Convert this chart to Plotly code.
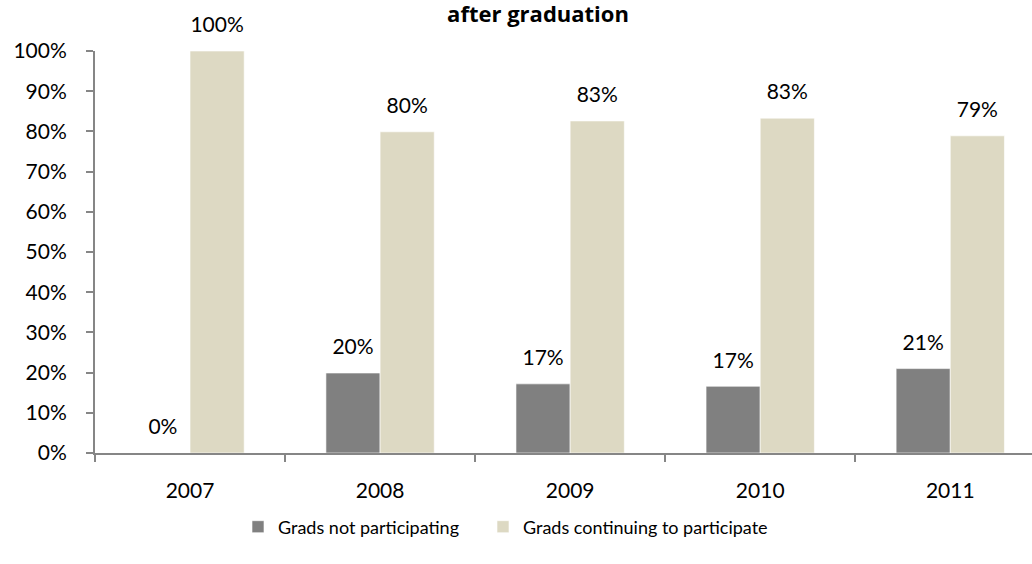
import plotly.graph_objects as go

# data
years = ["2007", "2008", "2009", "2010", "2011"]
not_participating = [0.0, 0.199, 0.172, 0.166, 0.210]
continuing = [1.0, 0.799, 0.826, 0.833, 0.789]
series_names = ["Grads not participating", "Grads continuing to participate"]
title_text = "after graduation"

FONT = "Lato"
GREY = "#808080"
TAN = "#DDD9C3"
AXIS = "#868686"

fig = go.Figure()
series = [
    (series_names[0], not_participating, GREY, "g1", "legend"),
    (series_names[1], continuing, TAN, "g2", "legend2"),
]
for name, vals, colour, grp, leg in series:
    fig.add_trace(go.Bar(
        x=years, y=vals, name=name, offsetgroup=grp, legend=leg,
        marker=dict(color=colour, line=dict(color="white", width=0.6)),
        hoverinfo="skip",
    ))
    # value labels: invisible markers push the text up above the bar tops
    fig.add_trace(go.Scatter(
        x=years, y=vals, offsetgroup=grp, mode="markers+text",
        text=[f"{v * 100:.0f}%" for v in vals], textposition="top center",
        textfont=dict(family=FONT, size=21, color="black"),
        marker=dict(size=20, opacity=0), showlegend=False, hoverinfo="skip",
        cliponaxis=False,
    ))

legend_style = dict(orientation="h", xref="container", yref="container",
                    xanchor="left", y=1 - 527 / 564, yanchor="middle",
                    font=dict(family=FONT, size=18, color="black"),
                    bgcolor="rgba(0,0,0,0)")

fig.update_layout(
    width=1032, height=564,
    paper_bgcolor="white", plot_bgcolor="white",
    margin=dict(l=95, r=0, t=51, b=111),
    barmode="group", bargap=0.43, bargroupgap=0,
    scattermode="group", scattergap=0.43,
    font=dict(family=FONT, size=21, color="black"),
    title=dict(text=f"<b>{title_text}</b>", x=538 / 1032, xref="container",
               xanchor="center", y=1 - 14 / 564, yref="container", yanchor="middle",
               font=dict(family="Open Sans", size=22, color="black")),
    legend=dict(legend_style, x=238 / 1032),
    legend2=dict(legend_style, x=483 / 1032),
)
fig.update_xaxes(
    type="category", range=[-0.5, 4.43], tickson="boundaries",
    showline=True, linecolor=AXIS, linewidth=2,
    ticks="outside", ticklen=7, tickcolor=AXIS, tickwidth=1.5,
    ticklabelstandoff=18, showgrid=False, zeroline=False,
)
fig.update_yaxes(
    range=[0, 1], dtick=0.1, tickformat=".0%",
    showline=True, linecolor=AXIS, linewidth=2,
    ticks="outside", ticklen=7, tickcolor=AXIS, tickwidth=1.5,
    ticklabelstandoff=15, showgrid=False, zeroline=False,
)

# drop the browser's default 8px body margin so the layout sits at the page origin
fig.write_html("out.html", config={"displayModeBar": False},
               post_script="document.body.style.margin='0';")
